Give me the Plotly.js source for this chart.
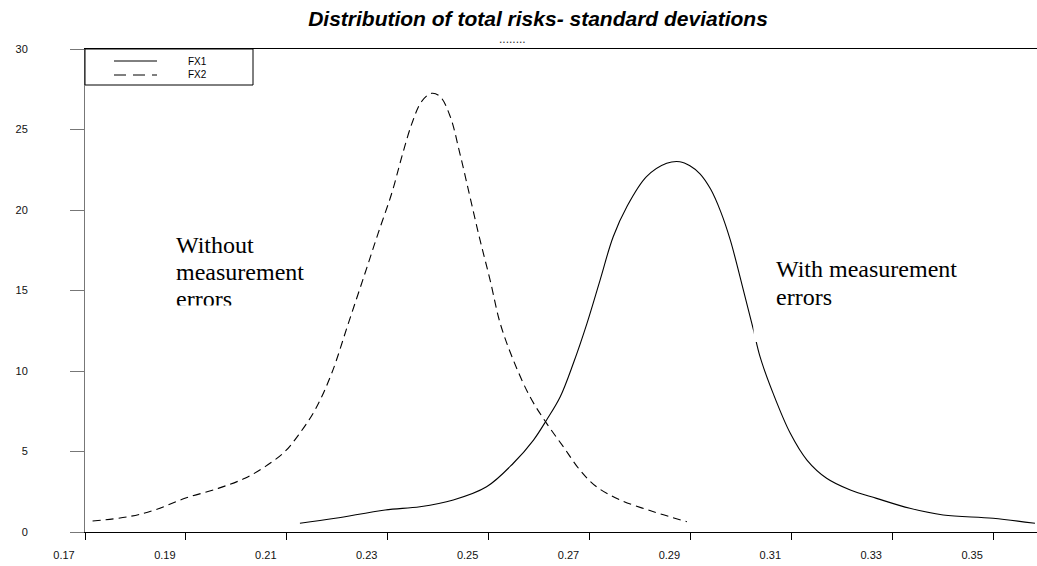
<!DOCTYPE html>
<html>
<head>
<meta charset="utf-8">
<script src="https://cdn.plot.ly/plotly-3.0.1.min.js"></script>
<style>
  html, body { margin: 0; padding: 0; background: #fff; }
  #chart { width: 1037px; height: 566px; }
</style>
</head>
<body>
<div id="chart"></div>
<script>
// ---- Data ----
const seriesNames = ["FX1", "FX2"];

// FX1: with measurement errors (solid)
const fx1X = [0.2126,0.2196,0.2295,0.2364,0.2430,0.2496,0.2549,0.2589,0.2615,0.2642,0.2668,0.2695,0.2721,0.2747,0.2774,0.2813,0.2853,0.2879,0.2899,0.2919,0.2940,0.2960,0.2979,0.3005,0.3025,0.3038,0.3064,0.3098,0.3131,0.3170,0.3217,0.3269,0.3335,0.3401,0.3500,0.3583];
const fx1Y = [0.54,0.85,1.37,1.57,1.99,2.81,4.27,5.71,6.96,8.40,10.48,12.96,15.65,18.34,20.20,22.07,22.90,23.00,22.75,22.25,21.30,19.90,18.14,15.03,12.55,10.89,8.61,6.13,4.47,3.34,2.61,2.09,1.47,1.06,0.85,0.54];

// FX2: without measurement errors (dashed)
const fx2X = [0.1715,0.1786,0.1839,0.1898,0.1964,0.2017,0.2057,0.2096,0.2123,0.2156,0.2189,0.2222,0.2255,0.2281,0.2308,0.2328,0.2348,0.2367,0.2387,0.2404,0.2424,0.2443,0.2463,0.2483,0.2503,0.2523,0.2549,0.2582,0.2615,0.2648,0.2681,0.2714,0.2761,0.2827,0.2893];
const fx2Y = [0.68,0.95,1.37,2.09,2.71,3.34,4.06,4.99,6.02,7.58,9.86,12.96,16.07,18.55,21.04,23.31,25.38,26.73,27.25,27.04,25.80,23.52,20.83,18.14,15.65,12.96,10.68,8.40,6.75,5.30,3.85,2.81,1.99,1.26,0.64];

const xTickVals = [0.17,0.19,0.21,0.23,0.25,0.27,0.29,0.31,0.33,0.35];
const xTickLabels = ["0.17","0.19","0.21","0.23","0.25","0.27","0.29","0.31","0.33","0.35"];
const yTickVals = [0,5,10,15,20,25,30];
const yTickLabels = ["0","5","10","15","20","25","30"];

const titleText = "Distribution of total risks- standard deviations";
const subtitleText = "........";
const labelWithout = ["Without", "measurement", "errors"];
const labelWith = ["With measurement", "errors"];

// ---- Layout geometry (pixels) ----
const W = 1037, H = 566;
const mL = 85, mT = 49, mR = 0, mB = 34;
const pW = W - mL - mR, pH = H - mT - mB;
const pxX = p => (p - mL) / pW;        // pixel -> paper x
const pxY = p => (mT + pH - p) / pH;    // pixel -> paper y

const serif = "Liberation Serif, Times New Roman, serif";
const sans = "Liberation Sans, Arial, sans-serif";

const lineStyles = [
  { color: "#000", width: 1.1 },
  { color: "#000", width: 1.1, dash: "8px,5px" }
];

const traces = [
  { type: "scatter", mode: "lines", name: seriesNames[0], x: fx1X, y: fx1Y, showlegend: false,
    line: Object.assign({ shape: "spline", smoothing: 1 }, lineStyles[0]) },
  { type: "scatter", mode: "lines", name: seriesNames[1], x: fx2X, y: fx2Y, showlegend: false,
    line: Object.assign({ shape: "spline", smoothing: 1 }, lineStyles[1]) }
];

function textAnn(text, xp, yp, size, family) {
  return { text: text, xref: "paper", yref: "paper", x: pxX(xp), y: pxY(yp),
    xanchor: "left", yanchor: "middle", showarrow: false, borderpad: 0,
    font: { family: family || serif, size: size, color: "#000" } };
}

// Legend box (drawn as in the reference: wide box, samples then names)
const legendRows = [61, 75];
const legendShapes = [
  { type: "rect", xref: "paper", yref: "paper", layer: "above",
    x0: pxX(85), x1: pxX(253), y0: pxY(85), y1: pxY(49),
    fillcolor: "#fff", line: { color: "#000", width: 1 } }
];
seriesNames.forEach((n, i) => {
  legendShapes.push({ type: "line", xref: "paper", yref: "paper", layer: "above",
    x0: pxX(114), x1: pxX(157), y0: pxY(legendRows[i]), y1: pxY(legendRows[i]),
    line: { color: "#000", width: 1, dash: i === 1 ? "12px,7px" : "solid" } });
});

const annotations = [
  textAnn(labelWithout[0], 175, 244.6, 24),
  textAnn(labelWithout[1], 175, 271.9, 24),
  textAnn(labelWithout[2], 175, 299.2, 24),
  // cover that clips the bottom of the last line, as in the reference
  { text: " ", xref: "paper", yref: "paper", x: pxX(170), y: pxY(305), xanchor: "left", yanchor: "top",
    showarrow: false, width: 90, height: 10, bgcolor: "#fff", borderpad: 0, font: { size: 6 } },
  textAnn(labelWith[0], 775, 268.6, 24),
  textAnn(labelWith[1], 775, 296.9, 24),
  { text: subtitleText, xref: "paper", yref: "paper", x: pxX(512), y: pxY(39), xanchor: "center", yanchor: "middle",
    showarrow: false, font: { family: sans, size: 12, color: "#333" } },
  textAnn(seriesNames[0], 187, legendRows[0], 10, sans),
  textAnn(seriesNames[1], 187, legendRows[1], 10, sans)
];

const layout = {
  width: W, height: H,
  margin: { l: mL, r: mR, t: mT, b: mB, pad: 0 },
  paper_bgcolor: "#fff", plot_bgcolor: "#fff",
  title: { text: titleText, xref: "container", yref: "container",
    x: 538 / W, xanchor: "center", y: 1 - 19 / H, yanchor: "middle",
    font: { family: sans, size: 21, color: "#000", weight: "bold", style: "italic" } },
  showlegend: false,
  xaxis: { range: [0.17, 0.17 + pW / 5045], tickmode: "array", tickvals: xTickVals, ticktext: xTickLabels,
    showgrid: false, zeroline: false, showline: true, linecolor: "#000", linewidth: 1, mirror: true,
    ticks: "outside", ticklen: 7, tickcolor: "#000", tickwidth: 1,
    ticklabelshift: -21, ticklabelstandoff: 6,
    tickfont: { family: sans, size: 11, color: "#111" } },
  yaxis: { range: [0, 30], tickmode: "array", tickvals: yTickVals, ticktext: yTickLabels,
    showgrid: false, zeroline: false, showline: true, linecolor: "#777", linewidth: 1,
    ticks: "outside", ticklen: 14, tickcolor: "#777", tickwidth: 1,
    ticklabelstandoff: 40,
    tickfont: { family: sans, size: 11, color: "#111" } },
  shapes: [
    // background of the right text box hides a short piece of the solid curve
    { type: "rect", xref: "paper", yref: "paper", layer: "above",
      x0: pxX(753.5), x1: pxX(990), y0: pxY(342), y1: pxY(252),
      fillcolor: "#fff", line: { width: 0 } }
  ].concat(legendShapes),
  annotations: annotations,
  hovermode: false
};

Plotly.newPlot("chart", traces, layout, { staticPlot: true, displayModeBar: false });
</script>
</body>
</html>
